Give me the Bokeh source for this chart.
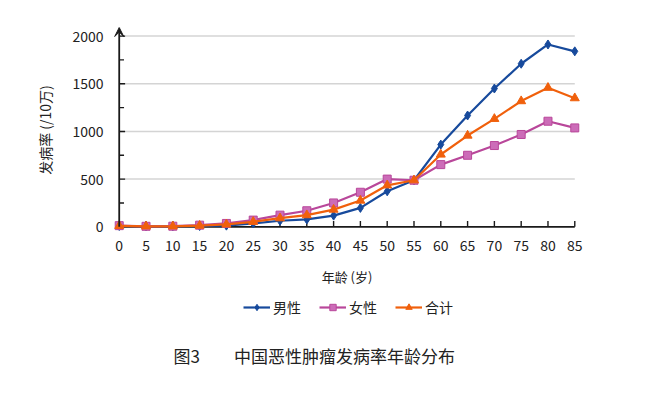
from bokeh.plotting import figure
from bokeh.layouts import column
from bokeh.models import (Range1d, FixedTicker, Legend, LegendItem, Label, Arrow, VeeHead)
from bokeh.embed import file_html
from bokeh.resources import INLINE

# ---- data ----
ages = [0, 5, 10, 15, 20, 25, 30, 35, 40, 45, 50, 55, 60, 65, 70, 75, 80, 85]
male = [8, 5, 5, 8, 12, 35, 63, 77, 117, 198, 372, 488, 862, 1167, 1450, 1710, 1912, 1840]
female = [12, 5, 6, 17, 35, 70, 122, 168, 250, 362, 500, 488, 652, 750, 852, 968, 1107, 1037]
total = [10, 5, 5, 12, 25, 52, 90, 122, 180, 275, 435, 488, 758, 957, 1132, 1318, 1458, 1349]
y_ticks = [0, 500, 1000, 1500, 2000]
y_minor = [250, 750, 1250, 1750]
grid_vals = [500, 1000, 1500, 2000]
series_names = ["男性", "女性", "合计"]
caption_text = "图3\u3000\u3000中国恶性肿瘤发病率年龄分布"

FONT = "Noto Sans CJK SC"
AX = "#1a1a1a"
TXT = "#222222"
blue = "#174a9c"
pink_line = "#b9479a"
pink_fill = "#cc6cb8"
orange = "#f0600c"

p = figure(width=640, height=295, output_backend="svg", toolbar_location=None,
           x_range=Range1d(-2, 87), y_range=Range1d(-60, 2090),
           min_border_left=108, min_border_right=55, min_border_top=27,
           min_border_bottom=63)
p.outline_line_color = None
p.xgrid.visible = False
p.ygrid.visible = False

# gridlines
p.segment(x0=[ages[0]] * len(grid_vals), x1=[ages[-1]] * len(grid_vals),
          y0=grid_vals, y1=grid_vals, line_color="#d4d4d4", line_width=1.5)

# hand-drawn axis lines and inner ticks at x=0 / y=0
p.segment(x0=[ages[0]], x1=[ages[-1]], y0=[0], y1=[0], line_color=AX, line_width=1.8)
p.segment(x0=ages, x1=ages, y0=[0] * len(ages), y1=[60] * len(ages), line_color=AX, line_width=1.4)
p.segment(x0=[0] * 4, x1=[1.1] * 4, y0=y_ticks[1:], y1=y_ticks[1:], line_color=AX, line_width=1.4)
p.segment(x0=[0] * 4, x1=[0.9] * 4, y0=y_minor, y1=y_minor, line_color=AX, line_width=1.4)
p.add_layout(Arrow(end=VeeHead(size=9, line_color=AX, fill_color=AX, line_width=1),
                   x_start=0, y_start=0, x_end=0, y_end=2090,
                   line_color=AX, line_width=1.8))

p.line(ages, male, line_color=blue, line_width=2.2)
p.scatter(ages, male, marker="diamond", size=9, fill_color=blue, line_color=blue)
p.line(ages, female, line_color=pink_line, line_width=2.2)
p.scatter(ages, female, marker="square", size=8, fill_color=pink_fill, line_color=pink_line)
p.line(ages, total, line_color=orange, line_width=2.2)
p.scatter(ages, total, marker="triangle", size=9, fill_color=orange, line_color=orange)

# axes (labels only)
xa = p.xaxis[0]
xa.ticker = FixedTicker(ticks=ages)
xa.axis_line_color = None
xa.major_tick_line_color = None
xa.minor_tick_line_color = None
xa.major_tick_out = 0
xa.major_tick_in = 0
xa.major_label_text_font = FONT
xa.major_label_text_font_size = "14px"
xa.major_label_text_color = TXT
xa.major_label_standoff = 7
xa.axis_label = "年龄 (岁)"
xa.axis_label_text_font = FONT
xa.axis_label_text_font_size = "13px"
xa.axis_label_text_font_style = "normal"
xa.axis_label_text_color = TXT
xa.axis_label_standoff = 13

ya = p.yaxis[0]
ya.ticker = FixedTicker(ticks=y_ticks)
ya.axis_line_color = None
ya.major_tick_line_color = None
ya.minor_tick_line_color = None
ya.major_tick_out = 0
ya.major_tick_in = 0
ya.major_label_text_font = FONT
ya.major_label_text_font_size = "14px"
ya.major_label_text_color = TXT
ya.major_label_standoff = 5
ya.axis_label = "发病率 (/10万)"
ya.axis_label_text_font = FONT
ya.axis_label_text_font_size = "14px"
ya.axis_label_text_font_style = "normal"
ya.axis_label_text_color = TXT
ya.axis_label_standoff = 14

# ---- second figure: legend and caption (frame aligned with the chart's frame) ----
p2 = figure(width=640, height=95, output_backend="svg", toolbar_location=None,
            x_range=Range1d(-2, 87), y_range=Range1d(-3000, -2000),
            x_axis_location=None, y_axis_location=None, min_border=0)
p2.outline_line_color = None
p2.xgrid.visible = False
p2.ygrid.visible = False

# hidden copies of the series, used only for the legend swatches
r1l = p2.line(ages, male, line_color=blue, line_width=2.2, visible=False)
r1s = p2.scatter(ages, male, marker="diamond", size=8, fill_color=blue, line_color=blue, visible=False)
r2l = p2.line(ages, female, line_color=pink_line, line_width=2.2, visible=False)
r2s = p2.scatter(ages, female, marker="square", size=7, fill_color=pink_fill, line_color=pink_line, visible=False)
r3l = p2.line(ages, total, line_color=orange, line_width=2.2, visible=False)
r3s = p2.scatter(ages, total, marker="triangle", size=8, fill_color=orange, line_color=orange, visible=False)

legend = Legend(items=[LegendItem(label=series_names[0], renderers=[r1l, r1s]),
                       LegendItem(label=series_names[1], renderers=[r2l, r2s]),
                       LegendItem(label=series_names[2], renderers=[r3l, r3s])],
                orientation="horizontal", location=(135, 73),
                padding=0, margin=0, spacing=18, glyph_width=27, glyph_height=16,
                label_standoff=3, label_height=16, label_text_font=FONT,
                label_text_font_size="14px", label_text_color=TXT,
                border_line_color=None, background_fill_alpha=0)
p2.add_layout(legend, "center")

p2.add_layout(Label(x=65, y=35, x_units="screen", y_units="screen", text=caption_text,
                    text_align="left", text_baseline="middle",
                    text_font=FONT, text_font_size="17px", text_color=TXT))

open("out.html", "w").write(file_html(column(p, p2), INLINE))
